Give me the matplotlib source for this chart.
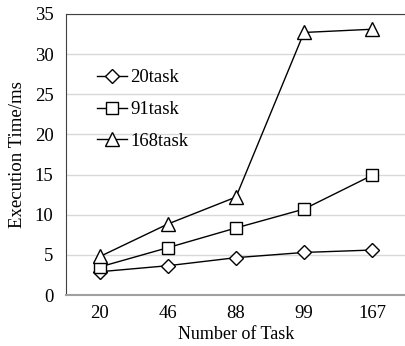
import matplotlib
matplotlib.use("Agg")
import matplotlib.pyplot as plt

categories = ["20", "46", "88", "99", "167"]
s20 = [2.9, 3.65, 4.65, 5.3, 5.6]
s91 = [3.5, 5.9, 8.35, 10.7, 14.9]
s168 = [4.8, 8.85, 12.2, 32.7, 33.1]
series_labels = ["20task", "91task", "168task"]
yticks = [0, 5, 10, 15, 20, 25, 30, 35]

plt.rcParams['font.family'] = ['Liberation Serif', 'DejaVu Serif']

fig = plt.figure(figsize=(4.06, 3.46), dpi=100)
ax = fig.add_axes([66/406, 51/346, 1 - 66/406, (295-14)/346])

x = list(range(len(categories)))
mk = dict(color='black', linewidth=1.0, markerfacecolor='white',
          markeredgecolor='black', markeredgewidth=1.0)
ax.plot(x, s20, marker='D', markersize=7, label=series_labels[0], **mk)
ax.plot(x, s91, marker='s', markersize=9, label=series_labels[1], **mk)
ax.plot(x, s168, marker='^', markersize=10, label=series_labels[2], **mk)

ax.set_xlim(-0.5, 4.5)
ax.set_ylim(0, 35)
ax.set_xticks(x)
ax.set_xticklabels(categories)
ax.set_yticks(yticks)
ax.tick_params(axis='x', length=0, labelsize=13.5, pad=7)
ax.tick_params(axis='y', length=0, labelsize=13.5, pad=9)
ax.yaxis.grid(True, color='#d9d9d9', linewidth=1.0)
ax.set_axisbelow(True)

ax.spines['right'].set_visible(False)
ax.spines['top'].set_color('#404040')
ax.spines['left'].set_color('#404040')
ax.spines['bottom'].set_color('#a0a0a0')
ax.spines['bottom'].set_linewidth(1.5)

ax.set_xlabel("Number of Task", fontsize=13, labelpad=3)
ax.set_ylabel("Execution Time/ms", fontsize=13.5, labelpad=6)

leg = ax.legend(loc='upper left', bbox_to_anchor=(0.068, 0.83), frameon=False,
                fontsize=13.5, handlelength=1.6, handletextpad=0.2,
                labelspacing=0.78, borderaxespad=0)

fig.savefig("out.png", dpi=100)
